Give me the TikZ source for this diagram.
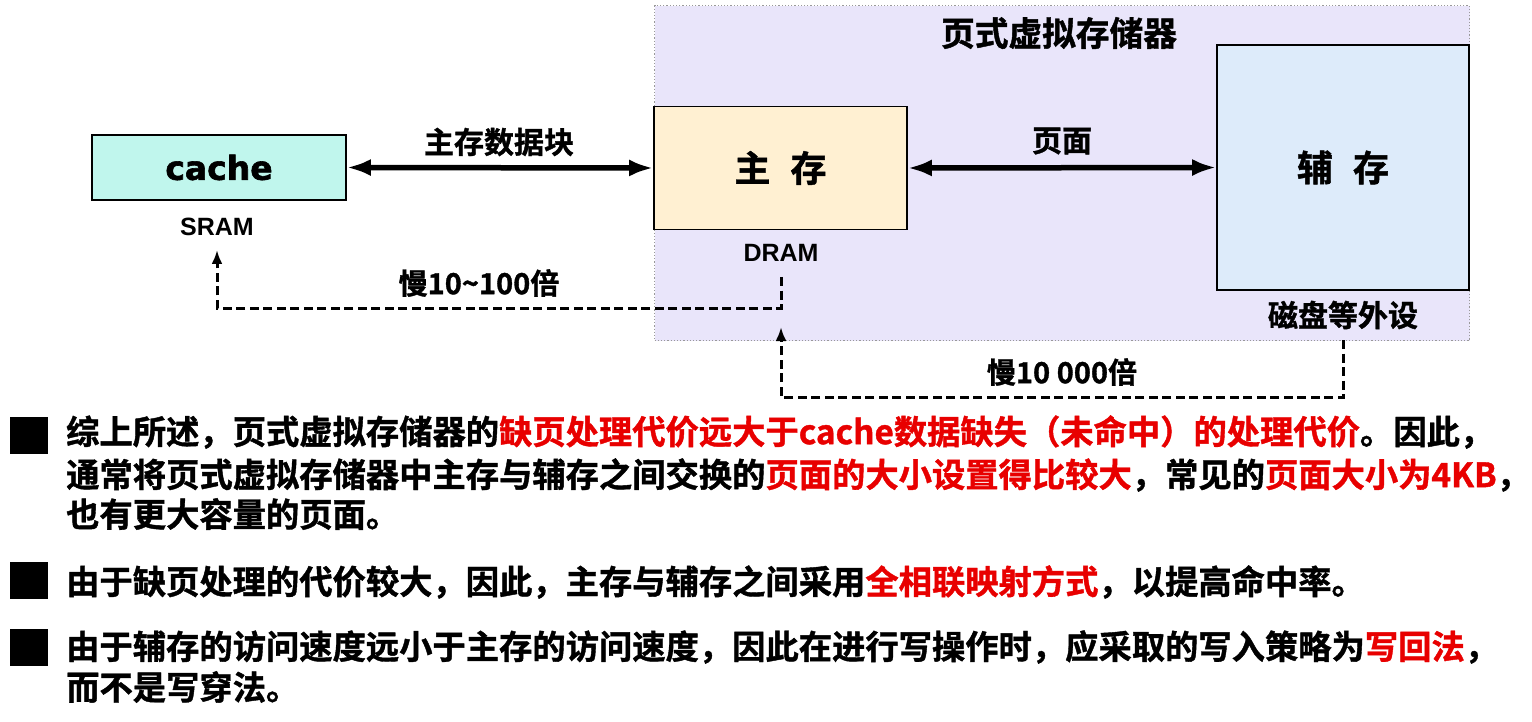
\documentclass[tikz,border=0pt]{standalone}
\usepackage{fontspec}
\usetikzlibrary{arrows.meta}
\newfontfamily\cjk{Noto Sans CJK SC Bold}[FakeBold=1.2]
\newfontfamily\lsans{Liberation Sans}
\newfontfamily\dvs{DejaVu Sans Bold}[FakeBold=1.8]
\definecolor{lav}{RGB}{233,229,250}
\definecolor{mint}{RGB}{192,246,237}
\definecolor{cream}{RGB}{255,240,210}
\definecolor{paleblue}{RGB}{221,235,250}
\definecolor{rd}{RGB}{232,0,0}
\newcommand{\R}[1]{\textcolor{rd}{#1}}
\tikzset{
  box/.style={draw=black, line width=1.6pt, inner sep=0pt},
  vmbox/.style={draw=gray!80, dotted, line width=1.2pt, fill=lav, inner sep=0pt},
  bigarrow/.style={line width=5.5pt, {Latex[length=24pt,width=17pt]}-{Latex[length=24pt,width=17pt]}},
  dasharr/.style={line width=3pt, dash pattern=on 9pt off 4.5pt, -{Latex[length=14pt,width=11pt]}},
  lbl/.style={font=\cjk\fontsize{30pt}{36pt}\selectfont, inner sep=0pt},
  eng/.style={font=\lsans\bfseries\fontsize{25pt}{30pt}\selectfont, inner sep=0pt},
  body/.style={font=\cjk\fontsize{33.3pt}{40pt}\selectfont, anchor=west, inner sep=0pt},
  bsq/.style={fill=black, minimum width=38pt, minimum height=37pt, inner sep=0pt}
}
\begin{document}
\begin{tikzpicture}[x=1pt,y=-1pt]
\useasboundingbox (0,0) rectangle (1532,722);
\fill[white] (0,0) rectangle (1532,722);
% virtual memory region
\node[vmbox, anchor=north west, minimum width=815pt, minimum height=335pt] (vm) at (654,5) {};
\node[lbl, font=\cjk\fontsize{33.7pt}{40pt}\selectfont] (title) at (1059,33) {页式虚拟存储器};
% boxes
\node[box, fill=mint, minimum width=254pt, minimum height=65pt, font=\dvs\fontsize{33pt}{38pt}\selectfont] (cache) at (219,167.5) {cache};
\node[box, fill=cream, minimum width=253pt, minimum height=123pt, font=\cjk\fontsize{36pt}{40pt}\selectfont] (main) at (780.5,168) {主\hspace{20pt}存};
\node[box, fill=paleblue, minimum width=252pt, minimum height=245pt, font=\cjk\fontsize{36pt}{40pt}\selectfont] (aux) at (1343,167.5) {辅\hspace{20pt}存};
% labels
\node[lbl] (blk) at (499,142) {主存数据块};
\node[lbl] (page) at (1062,141) {页面};
\node[eng] (sram) at (217,227) {SRAM};
\node[eng] (dram) at (781,253) {DRAM};
\node[lbl] (disk) at (1343,315) {磁盘等外设};
\node[lbl, font=\cjk\fontsize{29pt}{34pt}\selectfont] (slow1) at (479,283) {慢10\textasciitilde100倍};
\node[lbl, font=\cjk\fontsize{29pt}{34pt}\selectfont] (slow2) at (1062,372) {慢10 000倍};
% solid arrows
\draw[bigarrow] (cache.east) -- (main.west);
\draw[bigarrow] (main.east) -- (aux.west);
% dashed connectors
\coordinate (d1) at (781,277);
\coordinate (d2) at (781,308);
\coordinate (sa) at (217,250);
\draw[dasharr] (d1) -- (d2) -| (sa);
\coordinate (k1) at (1343.5,340);
\coordinate (k2) at (1343.5,397);
\coordinate (ma) at (781,327);
\draw[dasharr] (k1) -- (k2) -| (ma);
% bullets
\node[bsq] (b1) at (29,435.5) {};
\node[bsq] (b2) at (29,580.5) {};
\node[bsq] (b3) at (29,647.5) {};
\node[body] (t1) at (66,432) {综上所述，页式虚拟存储器的\R{缺页处理代价远大于cache数据缺失（未命中）的处理代价}。因此，};
\node[body] (t2) at (66,475) {通常将页式虚拟存储器中主存与辅存之间交换的\R{页面的大小设置得比较大}，常见的\R{页面大小为4KB}，};
\node[body] (t3) at (66,514) {也有更大容量的页面。};
\node[body] (t4) at (66,582) {由于缺页处理的代价较大，因此，主存与辅存之间采用\R{全相联映射方式}，以提高命中率。};
\node[body] (t5) at (66,647) {由于辅存的访问速度远小于主存的访问速度，因此在进行写操作时，应采取的写入策略为\R{写回法}，};
\node[body] (t6) at (66,687) {而不是写穿法。};
\end{tikzpicture}
\end{document}
